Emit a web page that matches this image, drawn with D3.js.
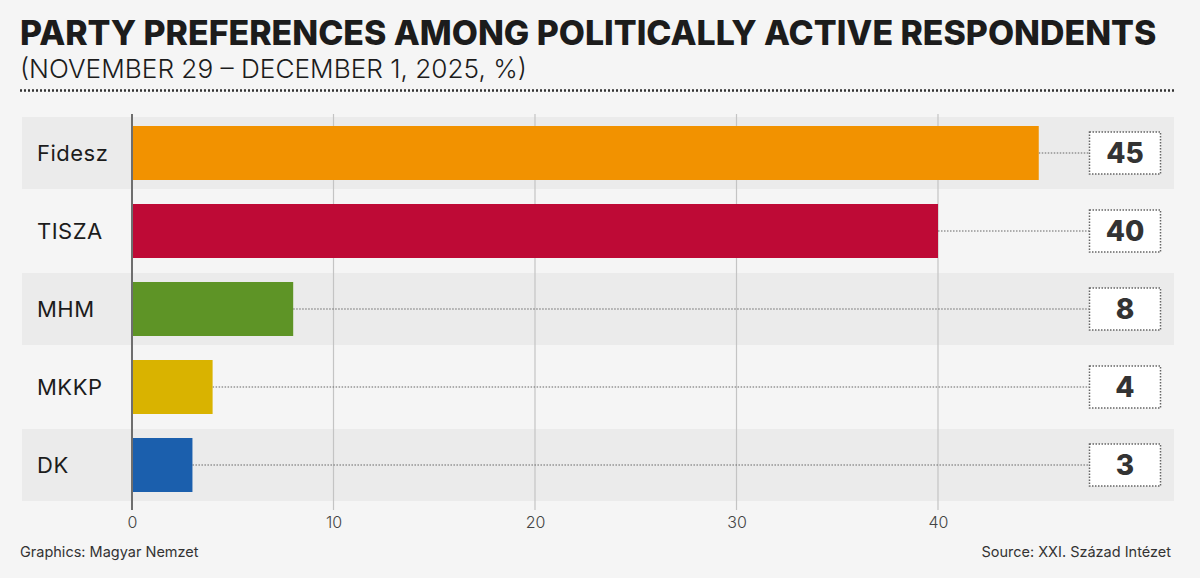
<!DOCTYPE html>
<html><head><meta charset="utf-8">
<script src="https://cdn.jsdelivr.net/npm/d3@7"></script>
<style>
body{margin:0;background:#f5f5f5;}
svg{display:block;}
</style></head>
<body>
<svg id="c" width="1200" height="578"></svg>
<script>
const categories = ["Fidesz","TISZA","MHM","MKKP","DK"];
const values = [45,40,8,4,3];
const colors = ["#f29200","#be0a36","#5e9426","#d9b300","#1b5fad"];
const ticks = [0,10,20,30,40];
const title = "PARTY PREFERENCES AMONG POLITICALLY ACTIVE RESPONDENTS";
const subtitle = "(NOVEMBER 29 – DECEMBER 1, 2025, %)";
const credit = "Graphics: Magyar Nemzet";
const source = "Source: XXI. Század Intézet";

const svg = d3.select("#c");
svg.append("rect").attr("width",1200).attr("height",578).attr("fill","#f5f5f5");

function fitText(sel, w){
  const n = sel.node();
  let fs = parseFloat(sel.attr("font-size"));
  const len = n.getComputedTextLength();
  sel.attr("font-size", fs * w / len);
}

const t = svg.append("text").attr("x",20).attr("y",45).text(title)
  .attr("font-family","Inter, 'Open Sans', sans-serif").attr("font-weight",800)
  .attr("font-size",30).attr("fill","#1c1c1c");
fitText(t, 1137);
const st = svg.append("text").attr("x",20).attr("y",78).text(subtitle)
  .attr("font-family","Inter, 'Open Sans', sans-serif").attr("font-weight",300)
  .attr("font-size",22).attr("fill","#1c1c1c");
fitText(st, 507);

svg.append("line").attr("x1",20).attr("x2",1175).attr("y1",90.5).attr("y2",90.5)
  .attr("stroke","#333").attr("stroke-width",2.5).attr("stroke-dasharray","2,2");

const x = d3.scaleLinear().domain([0,10]).range([132,333.5]);
const y = d3.scaleBand().domain(categories).range([114,504]).paddingInner(0).paddingOuter(0);
const bandH = 72, barH = 54;

const rows = svg.append("g");
categories.forEach((c,i)=>{
  const cy = y(c) + y.bandwidth()/2;
  if(i%2===0){
    rows.append("rect").attr("x",22).attr("width",1152).attr("y",cy-bandH/2).attr("height",bandH).attr("fill","#ebebeb");
  }
});

// grid
const grid = svg.append("g");
ticks.slice(1).forEach(v=>{
  grid.append("line").attr("x1",x(v)).attr("x2",x(v)).attr("y1",114).attr("y2",510)
    .attr("stroke","#c4c4c4").attr("stroke-width",1.2);
});

// leaders
categories.forEach((c,i)=>{
  const cy = y(c) + y.bandwidth()/2;
  svg.append("line").attr("x1",x(values[i])).attr("x2",1089).attr("y1",cy).attr("y2",cy)
    .attr("stroke","#666").attr("stroke-width",1.2).attr("stroke-dasharray","1.5,1.5");
});

// bars
svg.append("g").selectAll("rect").data(categories).join("rect")
  .attr("x",x(0)).attr("y",d=>y(d)+y.bandwidth()/2-barH/2)
  .attr("width",(d,i)=>x(values[i])-x(0)).attr("height",barH)
  .attr("fill",(d,i)=>colors[i]);

// axis line
svg.append("line").attr("x1",x(0)).attr("x2",x(0)).attr("y1",114).attr("y2",510)
  .attr("stroke","#6e6e6e").attr("stroke-width",2);

// category labels
svg.append("g").selectAll("text").data(categories).join("text")
  .attr("x",37).attr("y",d=>y(d)+y.bandwidth()/2).attr("dy","0.36em")
  .attr("font-family","Inter, 'Open Sans', sans-serif").attr("font-size",22)
  .attr("letter-spacing",0.5)
  .attr("fill","#1c1c1c").text(d=>d);

// value boxes
categories.forEach((c,i)=>{
  const cy = y(c) + y.bandwidth()/2;
  svg.append("rect").attr("x",1089.5).attr("y",cy-21).attr("width",71).attr("height",42)
    .attr("fill","#ffffff").attr("stroke","#666").attr("stroke-width",1.5).attr("stroke-dasharray","1.5,1.5");
  svg.append("text").attr("x",1125).attr("y",cy).attr("dy","0.36em").attr("text-anchor","middle")
    .attr("font-family","Inter, 'Open Sans', sans-serif").attr("font-weight",800).attr("font-size",28)
    .attr("fill","#333").text(values[i]);
});

// x axis ticks
const ax = svg.append("g").attr("transform","translate(0,510)")
  .call(d3.axisBottom(x).tickValues(ticks).tickSize(0).tickPadding(7));
ax.select(".domain").remove();
ax.selectAll("text").attr("font-family","Inter, 'Open Sans', sans-serif").attr("font-size",16)
  .attr("fill","#444").attr("font-weight",300);

svg.append("text").attr("x",20).attr("y",557).text(credit)
  .attr("font-family","Inter, 'Open Sans', sans-serif").attr("font-size",14.5).attr("fill","#333");
svg.append("text").attr("x",1171).attr("y",557).attr("text-anchor","end").text(source)
  .attr("font-family","Inter, 'Open Sans', sans-serif").attr("font-size",14.5).attr("fill","#333");
</script>
</body></html>
